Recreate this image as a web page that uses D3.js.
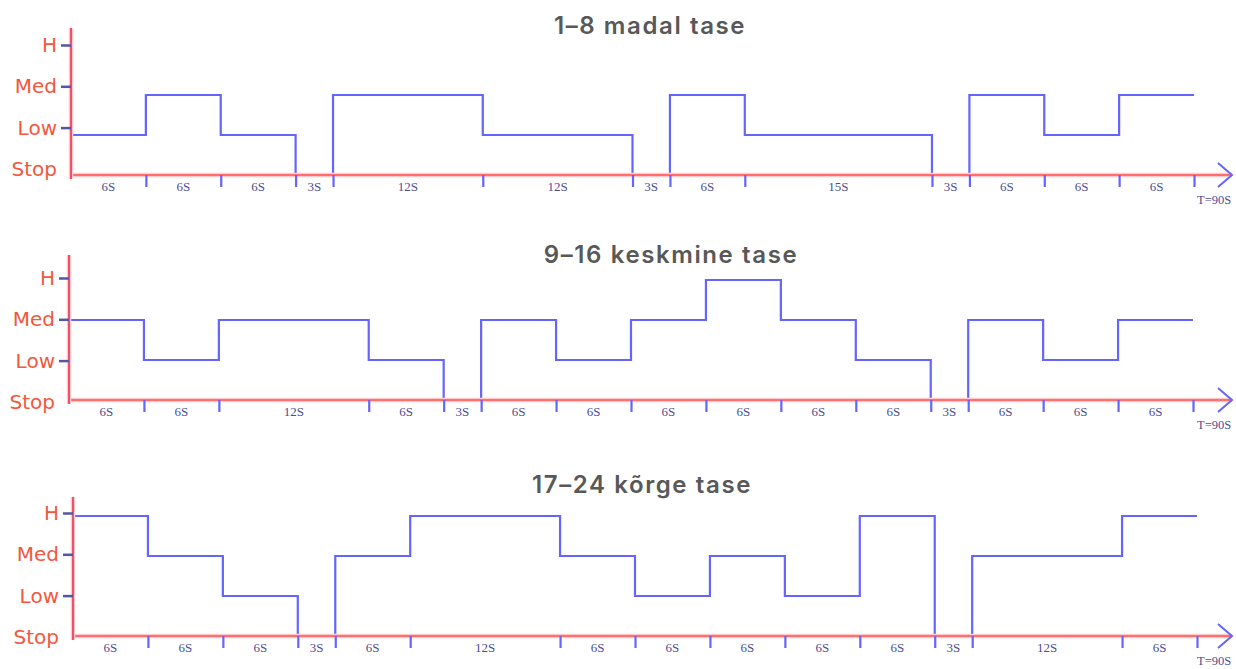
<!DOCTYPE html>
<html>
<head>
<meta charset="utf-8">
<script src="https://cdn.jsdelivr.net/npm/d3@7"></script>
<style>
  html, body { margin: 0; padding: 0; background: #fff; }
  svg { display: block; }
</style>
</head>
<body>
<svg id="chart" width="1236" height="669"></svg>
<script>
// ---------------- DATA ----------------
const levels = ["Stop", "Low", "Med", "H"];
const totalTime = 90;
const totalLabel = "T=90S";

const titles = ["1–8 madal tase", "9–16 keskmine tase", "17–24 kõrge tase"];

const durations1 = [6, 6, 6, 3, 12, 12, 3, 6, 15, 3, 6, 6, 6];
const levels1    = ["Low", "Med", "Low", "Stop", "Med", "Low", "Stop", "Med", "Low", "Stop", "Med", "Low", "Med"];

const durations2 = [6, 6, 12, 6, 3, 6, 6, 6, 6, 6, 6, 3, 6, 6, 6];
const levels2    = ["Med", "Low", "Med", "Low", "Stop", "Med", "Low", "Med", "H", "Med", "Low", "Stop", "Med", "Low", "Med"];

const durations3 = [6, 6, 6, 3, 6, 12, 6, 6, 6, 6, 6, 3, 12, 6];
const levels3    = ["H", "Med", "Low", "Stop", "Med", "H", "Med", "Low", "Med", "Low", "H", "Stop", "Med", "H"];

// ---------------- LAYOUT ----------------
const panels = [
  { title: titles[0], durations: durations1, lv: levels1, x0: 71, x1: 1194, axisY: 175, yTop: 28, labelTop: 45, titleX: 650, titleY: 34 },
  { title: titles[1], durations: durations2, lv: levels2, x0: 69, x1: 1193, axisY: 400, yTop: 255, labelTop: 278, titleX: 671, titleY: 263 },
  { title: titles[2], durations: durations3, lv: levels3, x0: 73, x1: 1197, axisY: 636, yTop: 497, labelTop: 513, titleX: 642, titleY: 493 }
];
const levelStep = 40;
const labelStep = 41.3;
const axisEnd = 1232;

const BLUE = "#6464ff";
const RED = "#ff6f6f";
const LABEL_RED = "#f2583d";
const TICK_NAVY = "#4d4d96";

const svg = d3.select("#chart");

panels.forEach(p => {
  const g = svg.append("g");

  const x = d3.scaleLinear().domain([0, totalTime]).range([p.x0, p.x1]);
  const y = d3.scalePoint().domain(levels).range([p.axisY, p.axisY - levelStep * (levels.length - 1)]);
  const yLab = d3.scalePoint().domain(levels.slice().reverse())
    .range([p.labelTop, p.labelTop + labelStep * (levels.length - 1)]);

  const starts = [];
  let t = 0;
  p.durations.forEach(d => { starts.push(t); t += d; });
  const ends = p.durations.map((d, i) => starts[i] + d);

  // title
  g.append("text")
    .attr("x", p.titleX).attr("y", p.titleY)
    .attr("text-anchor", "middle")
    .attr("font-family", "Inter, 'DejaVu Sans', sans-serif")
    .attr("font-size", 24)
    .attr("font-weight", 600)
    .attr("letter-spacing", 1.6)
    .attr("fill", "#585858")
    .text(p.title);

  // step line
  const pts = p.lv.map((l, i) => [starts[i], l]);
  pts.push([totalTime, p.lv[p.lv.length - 1]]);
  const line = d3.line().x(d => x(d[0])).y(d => y(d[1])).curve(d3.curveStepAfter);
  g.append("path")
    .datum(pts)
    .attr("d", line)
    .attr("fill", "none")
    .attr("stroke", BLUE)
    .attr("stroke-width", 2.2);

  const xAxis = d3.axisBottom(x)
    .tickValues(ends)
    .tickSize(12)
    .tickFormat("");
  const ax = g.append("g")
    .attr("transform", `translate(0,${p.axisY})`)
    .call(xAxis);
  ax.select(".domain").remove();
  ax.selectAll(".tick line").attr("stroke", BLUE).attr("stroke-width", 2.2);

  g.append("line")
    .attr("x1", p.x0).attr("x2", axisEnd)
    .attr("y1", p.axisY).attr("y2", p.axisY)
    .attr("stroke", "#ffc9c9").attr("stroke-width", 4.5);
  g.append("line")
    .attr("x1", p.x0).attr("x2", axisEnd)
    .attr("y1", p.axisY).attr("y2", p.axisY)
    .attr("stroke", RED).attr("stroke-width", 2);

  ax.raise();

  g.append("path")
    .attr("d", `M${axisEnd - 14},${p.axisY - 12} L${axisEnd},${p.axisY} L${axisEnd - 14},${p.axisY + 12}`)
    .attr("fill", "none").attr("stroke", BLUE).attr("stroke-width", 2);

  g.selectAll("text.dur")
    .data(p.durations)
    .join("text")
    .attr("class", "dur")
    .attr("x", (d, i) => x(starts[i] + d / 2))
    .attr("y", p.axisY + 16)
    .attr("text-anchor", "middle")
    .attr("font-family", "'Liberation Serif', serif")
    .attr("font-size", 13)
    .attr("fill", TICK_NAVY)
    .text(d => d + "S");

  g.append("text")
    .attr("x", 1197).attr("y", p.axisY + 29)
    .attr("font-family", "'Liberation Serif', serif")
    .attr("font-size", 12.5)
    .attr("fill", TICK_NAVY)
    .text(totalLabel);

  // y axis
  g.append("line")
    .attr("x1", p.x0).attr("x2", p.x0)
    .attr("y1", p.yTop).attr("y2", p.axisY + 4)
    .attr("stroke", "#ffc9d0").attr("stroke-width", 4.5);
  g.append("line")
    .attr("x1", p.x0).attr("x2", p.x0)
    .attr("y1", p.yTop).attr("y2", p.axisY + 4)
    .attr("stroke", "#f25068").attr("stroke-width", 2);

  const yAxis = d3.axisLeft(yLab).tickSize(10).tickPadding(4);
  const ay = g.append("g")
    .attr("transform", `translate(${p.x0},0)`)
    .call(yAxis);
  ay.select(".domain").remove();
  ay.selectAll(".tick line")
    .attr("stroke", "#5656a0")
    .attr("stroke-width", 2.5)
    .attr("display", d => d === "Stop" ? "none" : null);
  ay.selectAll(".tick text")
    .attr("x", -14)
    .attr("font-family", "'DejaVu Sans', sans-serif")
    .attr("font-size", 20)
    .attr("fill", LABEL_RED);
});
</script>
</body>
</html>
